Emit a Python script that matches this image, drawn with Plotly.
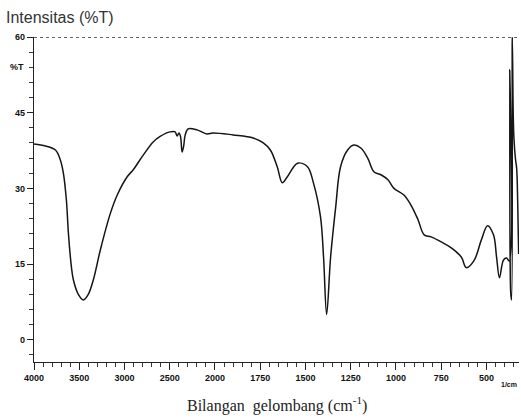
import plotly.graph_objects as go

# IR spectrum (wavenumber in cm^-1, %T)
wavenumber = [4000, 3873, 3763, 3708, 3675, 3642, 3620, 3587, 3565, 3510, 3455, 3400,
              3344, 3267, 3157, 3080, 2970, 2903, 2793, 2683, 2606, 2496, 2441, 2419,
              2397, 2380, 2363, 2345, 2330, 2297, 2198, 2088, 2022, 1900, 1789, 1733,
              1694, 1656, 1628, 1600, 1544, 1489, 1456, 1417, 1400, 1383, 1361, 1333,
              1306, 1267, 1233, 1194, 1156, 1122, 1083, 1044, 1011, 956, 917, 878,
              844, 806, 750, 694, 639, 611, 567, 528, 494, 461, 444, 428, 406, 389,
              374, 371, 366, 361, 357, 352, 348, 340, 333, 327, 322]
transmittance = [38.8, 38.4, 37.6, 35.6, 33.0, 27.7, 21.2, 14.5, 11.9, 9.0, 7.9, 9.0,
                 11.9, 17.8, 25.0, 28.7, 32.3, 33.7, 36.6, 39.2, 40.3, 41.2, 41.2, 40.4,
                 41.0, 40.2, 37.2, 38.5, 40.5, 41.8, 41.6, 40.8, 41.0, 40.6, 40.0, 39.0,
                 37.6, 34.3, 31.1, 32.3, 35.0, 34.3, 31.1, 24.4, 16.4, 5.0, 16.4, 26.3,
                 34.3, 37.6, 38.6, 38.0, 36.0, 33.3, 32.7, 31.7, 30.0, 28.7, 26.7, 23.8,
                 20.8, 20.4, 19.4, 18.2, 16.4, 14.3, 15.8, 19.8, 22.6, 20.8, 16.4, 12.3,
                 15.8, 16.2, 15.6, 53.5, 9.5, 7.9, 60.0, 45.0, 40.0, 36.0, 34.0, 27.0, 17.0]

x_tick_values = [4000, 3500, 3000, 2500, 2000, 1750, 1500, 1250, 1000, 750, 500]
x_tick_labels = ["4000", "3500", "3000", "2500", "2000", "1750", "1500", "1250", "1000", "750", "500"]
y_tick_values = [0, 15, 30, 45, 60]
y_tick_labels = ["0", "15", "30", "45", "60"]


def scale_pos(w):
    # instrument scale: 500 cm-1 per division above 2000, 250 cm-1 per division below
    return (4000 - w) / 2.0 if w >= 2000 else 1000 + (2000 - w)


fig = go.Figure()
fig.add_trace(go.Scatter(
    x=[scale_pos(w) for w in wavenumber], y=transmittance,
    mode="lines", line=dict(color="#151515", width=1.5), line_shape="spline",
    hoverinfo="skip", showlegend=False))

tickfont = dict(family="Liberation Sans", size=9, color="#111", weight="bold")

fig.update_layout(
    width=521, height=419,
    margin=dict(l=34, r=2, t=37, b=57),
    paper_bgcolor="white", plot_bgcolor="white",
    xaxis=dict(
        range=[0, 2680], showgrid=False, zeroline=False,
        showline=True, linecolor="#222", linewidth=1.2,
        tickmode="array", tickvals=[scale_pos(w) for w in x_tick_values],
        ticktext=x_tick_labels, ticks="outside", ticklen=7, tickwidth=1.2,
        tickcolor="#222", tickfont=tickfont,
        minor=dict(dtick=50, tick0=0, ticks="outside", ticklen=4, tickcolor="#333", tickwidth=1),
    ),
    yaxis=dict(
        range=[-4.4, 60], showgrid=False, zeroline=False,
        showline=True, linecolor="#222", linewidth=1.2,
        tickmode="array", tickvals=y_tick_values, ticktext=y_tick_labels,
        ticks="outside", ticklen=6, tickwidth=1.2, tickcolor="#222", tickfont=tickfont,
        minor=dict(dtick=3, tick0=0, ticks="outside", ticklen=4, tickcolor="#333", tickwidth=1),
    ),
    shapes=[dict(type="line", xref="paper", yref="y", x0=0, x1=1, y0=60, y1=60,
                 line=dict(color="#333", width=1.4, dash="dot"))],
    annotations=[
        dict(text="Intensitas (%T)", xref="paper", yref="paper", x=-0.062, y=1.0,
             yshift=20, xanchor="left", yanchor="middle", showarrow=False,
             font=dict(family="Liberation Sans", size=16, color="#333")),
        dict(text="%T", xref="paper", yref="y", x=0, y=54, xshift=-8,
             xanchor="right", yanchor="middle", showarrow=False, font=tickfont),
        dict(text="1/cm", xref="paper", yref="paper", x=1.0, y=0, yshift=-22,
             xanchor="right", yanchor="middle", showarrow=False,
             font=dict(family="Liberation Sans", size=7, color="#111", weight="bold")),
        dict(text="Bilangan  gelombang (cm<sup>-1</sup>)", xref="paper", yref="paper",
             x=0.5, y=0, yshift=-42, xanchor="center", yanchor="middle", showarrow=False,
             font=dict(family="Liberation Serif", size=16, color="#222")),
    ],
)

fig.write_html("out.html")
